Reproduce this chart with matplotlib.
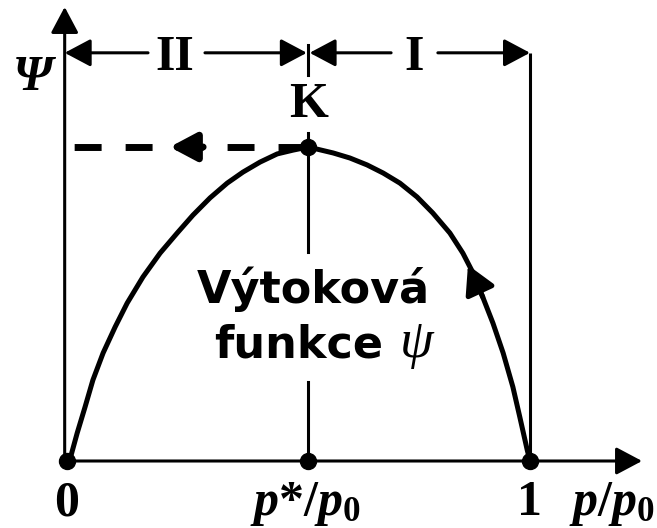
import numpy as np
import matplotlib.pyplot as plt

plt.rcParams['mathtext.fontset'] = 'custom'
plt.rcParams['mathtext.it'] = 'Liberation Serif:bold:italic'
plt.rcParams['mathtext.rm'] = 'Liberation Serif:bold'
plt.rcParams['lines.scale_dashes'] = False

# výtoková funkce psi (normovaná na psi v kritickém bodě K)
p_ratio = [0.000, 0.006, 0.022, 0.039, 0.056, 0.078, 0.104, 0.130, 0.164,
           0.201, 0.238, 0.272, 0.309, 0.346, 0.380, 0.417, 0.454, 0.488,
           0.521, 0.575, 0.611, 0.648, 0.683, 0.719, 0.756, 0.790, 0.827,
           0.855, 0.877, 0.898, 0.920, 0.942, 0.963, 0.978, 0.994, 1.000]
psi = [0.000, 0.003, 0.089, 0.172, 0.258, 0.344, 0.427, 0.503, 0.586,
       0.662, 0.726, 0.783, 0.838, 0.885, 0.920, 0.952, 0.978, 0.990,
       1.000, 0.981, 0.965, 0.943, 0.917, 0.885, 0.841, 0.790, 0.726,
       0.662, 0.599, 0.522, 0.439, 0.344, 0.236, 0.140, 0.035, 0.000]

p_crit = 0.521          # p*/p0
psi_max = 1.0           # bod K
key_x = [0.0, p_crit, 1.0]
key_labels = ['0', r'$p{*}/p_{0}$', '1']

serif = dict(family='Liberation Serif', weight='bold', fontsize=36)
lw_ax = 2.2
arrow_head = '-|>,head_length=16,head_width=8.5'

fig = plt.figure(figsize=(6.57, 5.28), dpi=100)
ax = fig.add_axes([0, 0, 1, 1])
ax.set_xlim(-0.1447, 1.2743)
ax.set_ylim(-0.2134, 1.4682)
ax.axis('off')

y_axis_x = -0.005
top_y = 1.30

def arrow(x0, y0, x1, y1, lw=lw_ax, style=arrow_head):
    ax.annotate('', xy=(x1, y1), xytext=(x0, y0),
                arrowprops=dict(arrowstyle=style, lw=lw, color='black',
                                shrinkA=0, shrinkB=0, mutation_scale=1))

# osy
arrow(y_axis_x, 0, 1.242, 0)
arrow(y_axis_x, 0, y_axis_x, 1.446)

# svislé čáry v p*/p0 a v 1
ax.plot([p_crit, p_crit], [0, 0.252], color='black', lw=lw_ax)
ax.plot([p_crit, p_crit], [0.666, 1.045], color='black', lw=lw_ax)
ax.plot([p_crit, p_crit], [1.229, 1.325], color='black', lw=lw_ax)
ax.plot([1.0, 1.0], [0, top_y], color='black', lw=lw_ax, solid_capstyle='butt')

# oblasti I a II
arrow(0.175, top_y, y_axis_x, top_y)
arrow(0.298, top_y, p_crit - 0.003, top_y)
arrow(0.700, top_y, p_crit + 0.003, top_y)
arrow(0.801, top_y, 1.0, top_y)
ax.text(0.233, top_y, 'II', ha='center', va='center_baseline', **serif)
ax.text(0.750, top_y, 'I', ha='center', va='center_baseline', **serif)

# čárkovaná čára z K na osu psi
ax.plot([p_crit - 0.007, 0.011], [psi_max, psi_max], color='black', lw=5,
        linestyle=(0, (19.4, 17.3)))
arrow(0.294, psi_max, 0.222, psi_max, lw=5,
      style='-|>,head_length=16,head_width=8.5')

# křivka se šipkou směru
ax.plot(p_ratio, psi, color='black', lw=3.6, solid_joinstyle='round',
        solid_capstyle='round')
i_tail = 29
arrow(p_ratio[i_tail], psi[i_tail], 0.866, 0.624,
      lw=3.6, style='-|>,head_length=17,head_width=9.4')

# body
ax.plot(key_x, [0, 0, 0], 'o', color='black', ms=11.5)
ax.plot([p_crit], [psi_max], 'o', color='black', ms=11.5)

# popisky
ax.text(-0.073, 1.22, 'Ψ', ha='center', va='center', family='Liberation Serif',
        weight='bold', style='italic', fontsize=36)
ax.text(p_crit, 1.134, 'K', ha='center', va='center', **serif)
for x, lab in zip(key_x, key_labels):
    ax.text(x - 0.007 if x == p_crit else x, -0.172, lab, ha='center',
            va='baseline', **serif)
ax.text(1.177, -0.172, r'$p/p_{0}$', ha='center', va='baseline', **serif)

ax.text(0.531, 0.503, 'Výtoková', ha='center', va='baseline',
        family='DejaVu Sans', weight='bold', fontsize=32)
ax.text(0.501, 0.330, 'funkce', ha='center', va='baseline',
        family='DejaVu Sans', weight='bold', fontsize=32)
ax.text(0.719, 0.330, 'ψ', ha='left', va='baseline',
        family='Liberation Serif', style='italic', fontsize=39)

fig.savefig('out.png', dpi=100)
